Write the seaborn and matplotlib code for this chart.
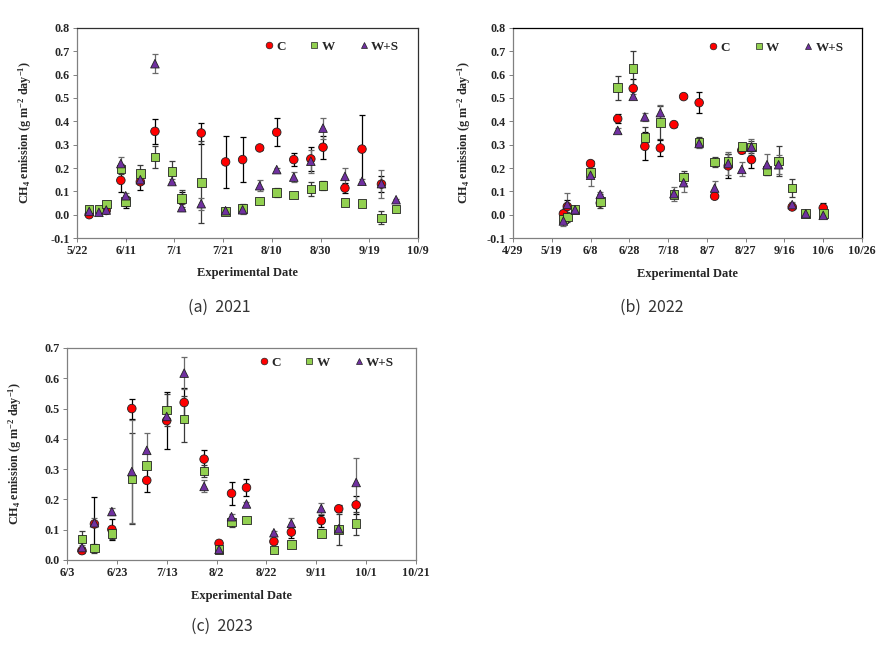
import numpy as np
import pandas as pd
import matplotlib
matplotlib.use("Agg")
import matplotlib.pyplot as plt
from matplotlib.lines import Line2D
import seaborn as sns

# ---------------- data ----------------
treatments = ["C", "W", "W+S"]

# (a) 2021
dates_a = ["2021-05-27", "2021-05-31", "2021-06-03", "2021-06-09", "2021-06-11", "2021-06-17",
           "2021-06-23", "2021-06-30", "2021-07-04", "2021-07-12", "2021-07-22", "2021-07-29",
           "2021-08-05", "2021-08-12", "2021-08-19", "2021-08-26", "2021-08-31", "2021-09-09",
           "2021-09-16", "2021-09-24", "2021-09-30"]
c_a = [0.000, np.nan, 0.018, 0.147, 0.053, 0.141, 0.357, np.nan, 0.061, 0.350, 0.226, 0.236,
       0.286, 0.353, 0.236, 0.239, 0.289, 0.114, 0.281, 0.131, np.nan]
c_a_err = [0.005, np.nan, 0.010, 0.050, 0.025, 0.035, 0.055, np.nan, 0.035, 0.045, 0.113, 0.095,
           0.010, 0.060, 0.027, 0.050, 0.050, 0.020, 0.145, 0.035, np.nan]
w_a = [0.024, 0.024, 0.046, 0.196, 0.057, 0.177, 0.247, 0.184, 0.069, 0.139, 0.014, 0.026,
       0.059, 0.096, 0.084, 0.110, 0.124, 0.053, 0.047, -0.014, 0.024]
w_a_err = [0.005, 0.005, 0.008, 0.020, 0.020, 0.035, 0.047, 0.045, 0.035, 0.175, 0.008, 0.020,
           0.005, 0.020, 0.005, 0.030, 0.020, 0.005, 0.005, 0.028, 0.005]
ws_a = [0.014, 0.010, 0.020, 0.219, 0.081, 0.150, 0.647, 0.142, 0.030, 0.047, 0.017, 0.021,
        0.124, 0.193, 0.161, 0.229, 0.371, 0.164, 0.143, 0.133, 0.064]
ws_a_err = [0.005, 0.005, 0.008, 0.030, 0.010, 0.020, 0.040, 0.010, 0.015, 0.025, 0.010, 0.020,
            0.024, 0.008, 0.020, 0.050, 0.045, 0.035, 0.010, 0.060, 0.005]
xticks_a = ["2021-05-22", "2021-06-11", "2021-07-01", "2021-07-21", "2021-08-10",
            "2021-08-30", "2021-09-19", "2021-10-09"]

# (b) 2022
dates_b = ["2022-05-25", "2022-05-27", "2022-05-31", "2022-06-08", "2022-06-13", "2022-06-22",
           "2022-06-30", "2022-07-06", "2022-07-14", "2022-07-21", "2022-07-26", "2022-08-03",
           "2022-08-11", "2022-08-18", "2022-08-25", "2022-08-30", "2022-09-07", "2022-09-13",
           "2022-09-20", "2022-09-27", "2022-10-06"]
c_b = [0.004, 0.035, np.nan, 0.219, 0.050, 0.411, 0.541, 0.293, 0.286, 0.386, 0.506, 0.480,
       0.079, 0.209, 0.276, 0.236, np.nan, np.nan, 0.033, np.nan, 0.029]
c_b_err = [0.005, 0.030, np.nan, 0.010, 0.010, 0.020, 0.040, 0.060, 0.036, 0.010, 0.008, 0.045,
           0.005, 0.050, 0.010, 0.035, np.nan, np.nan, 0.008, np.nan, 0.020]
w_b = [-0.018, -0.010, 0.021, 0.181, 0.057, 0.544, 0.626, 0.330, 0.394, 0.087, 0.161, 0.311,
       0.226, 0.229, 0.293, 0.290, 0.190, 0.230, 0.114, 0.004, 0.004]
w_b_err = [0.010, 0.020, 0.008, 0.020, 0.030, 0.052, 0.075, 0.046, 0.070, 0.010, 0.025, 0.020,
           0.022, 0.030, 0.010, 0.025, 0.020, 0.065, 0.040, 0.005, 0.005]
ws_b = [-0.027, 0.044, 0.021, 0.169, 0.087, 0.361, 0.507, 0.419, 0.437, 0.090, 0.137, 0.305,
        0.114, 0.219, 0.194, 0.290, 0.214, 0.214, 0.043, 0.004, -0.003]
ws_b_err = [0.020, 0.050, 0.010, 0.045, 0.010, 0.010, 0.010, 0.018, 0.035, 0.030, 0.040, 0.020,
            0.030, 0.050, 0.030, 0.035, 0.045, 0.040, 0.010, 0.005, 0.005]
xticks_b = ["2022-04-29", "2022-05-19", "2022-06-08", "2022-06-28", "2022-07-18", "2022-08-07",
            "2022-08-27", "2022-09-16", "2022-10-06", "2022-10-26"]

# (c) 2023
dates_c = ["2023-06-09", "2023-06-14", "2023-06-21", "2023-06-29", "2023-07-05", "2023-07-13",
           "2023-07-20", "2023-07-28", "2023-08-03", "2023-08-08", "2023-08-14", "2023-08-25",
           "2023-09-01", "2023-09-13", "2023-09-20", "2023-09-27"]
c_c = [0.031, 0.119, 0.101, 0.500, 0.263, 0.460, 0.520, 0.333, 0.055, 0.220, 0.239, 0.061,
       0.092, 0.130, 0.169, 0.182]
c_c_err = [0.008, 0.090, 0.035, 0.033, 0.037, 0.095, 0.048, 0.030, 0.005, 0.037, 0.028, 0.008,
           0.018, 0.020, 0.012, 0.030]
w_c = [0.069, 0.039, 0.088, 0.268, 0.312, 0.496, 0.465, 0.294, 0.035, 0.125, 0.132, 0.033,
       0.052, 0.088, 0.101, 0.121]
w_c_err = [0.026, 0.015, 0.020, 0.150, 0.012, 0.053, 0.075, 0.020, 0.005, 0.015, 0.008, 0.005,
           0.005, 0.008, 0.052, 0.038]
ws_c = [0.041, 0.123, 0.160, 0.292, 0.362, 0.474, 0.617, 0.243, 0.035, 0.143, 0.185, 0.090,
        0.121, 0.170, 0.103, 0.256]
ws_c_err = [0.008, 0.015, 0.012, 0.170, 0.057, 0.010, 0.053, 0.020, 0.005, 0.008, 0.008, 0.005,
            0.018, 0.017, 0.008, 0.082]
xticks_c = ["2023-06-03", "2023-06-23", "2023-07-13", "2023-08-02", "2023-08-22",
            "2023-09-11", "2023-10-01", "2023-10-21"]

captions = ["(a)  2021", "(b)  2022", "(c)  2023"]

# ---------------- style ----------------
sns.set_theme(style="white")
plt.rcParams["font.family"] = ["Liberation Serif", "DejaVu Serif"]
plt.rcParams["mathtext.fontset"] = "custom"
plt.rcParams["mathtext.rm"] = "Liberation Serif:bold"
plt.rcParams["mathtext.it"] = "Liberation Serif:bold"
plt.rcParams["mathtext.bf"] = "Liberation Serif:bold"

palette = {"C": "#FF0000", "W": "#92D050", "W+S": "#7030A0"}
markers = {"C": "o", "W": "s", "W+S": "^"}
ecolors = {"C": "#000000", "W": "#3a3a3a", "W+S": "#6a6a6a"}

fig = plt.figure(figsize=(8.89, 6.45), dpi=100)
W_, H_ = 889, 645


def px_axes(l, t, r, b):
    return fig.add_axes([l / W_, 1 - b / H_, (r - l) / W_, (b - t) / H_])


def draw(ax, dates, series, errs, xticks, ylim, yticks, leg_xy, ylab_x, xlab_y, frame_dark):
    d = pd.to_datetime(dates)
    frames = []
    for t, vals in zip(treatments, series):
        frames.append(pd.DataFrame({"date": d, "value": vals, "treatment": t}))
    long = pd.concat(frames, ignore_index=True).dropna()
    for t, vals, e in zip(treatments, series, errs):
        ax.errorbar(d, vals, yerr=e, fmt="none", ecolor=ecolors[t], elinewidth=0.9,
                    capsize=2.4, capthick=0.9, zorder=2)
    sns.scatterplot(data=long, x="date", y="value", hue="treatment", style="treatment",
                    hue_order=treatments, style_order=treatments,
                    palette=palette, markers=markers, s=38, edgecolor="#222222",
                    linewidth=0.6, legend=False, ax=ax, zorder=3)
    xt = pd.to_datetime(xticks)
    ax.set_xlim(xt[0], xt[-1])
    ax.set_xticks(xt)
    ax.set_xticklabels([f"{x.month}/{x.day}" for x in xt])
    ax.set_ylim(*ylim)
    ax.set_yticks(yticks)
    ax.set_yticklabels([f"{v:.1f}" for v in yticks])
    for lab in ax.get_xticklabels() + ax.get_yticklabels():
        lab.set_fontweight("bold")
        lab.set_fontsize(8.7)
    ax.tick_params(axis="both", direction="out", length=3, width=0.7, color="#808080",
                   pad=2, bottom=True, left=True)
    for side in ["left", "bottom"]:
        ax.spines[side].set_color("#808080")
        ax.spines[side].set_linewidth(0.9)
    for side in ["top", "right"]:
        ax.spines[side].set_color(frame_dark)
        ax.spines[side].set_linewidth(0.9)
    ax.set_xlabel("Experimental Date", fontsize=9, fontweight="bold")
    ax.set_ylabel(r"CH$_4$ emission (g m$^{-2}$ day$^{-1}$)", fontsize=8.7, fontweight="bold")
    ax.xaxis.set_label_coords(0.5, xlab_y)
    ax.yaxis.set_label_coords(ylab_x, 0.5)
    ax.grid(False)
    handles = [Line2D([], [], linestyle="none", marker=markers[t], markerfacecolor=palette[t],
                      markeredgecolor="#222222", markeredgewidth=0.5, markersize=4.8, label=t)
               for t in treatments]
    ax.legend(handles=handles, loc="center", bbox_to_anchor=leg_xy, ncol=3,
              frameon=False, handlelength=0.6, handletextpad=0.25, columnspacing=1.9,
              borderpad=0.0, prop={"family": "Liberation Serif", "weight": "bold", "size": 9.5})


ax_a = px_axes(77, 28, 418, 238)
draw(ax_a, dates_a, [c_a, w_a, ws_a], [c_a_err, w_a_err, ws_a_err], xticks_a,
     (-0.1, 0.8), np.round(np.arange(-0.1, 0.81, 0.1), 1), (0.748, 0.911), -0.125, -0.14, "#303030")

ax_b = px_axes(513, 28, 862, 238)
draw(ax_b, dates_b, [c_b, w_b, ws_b], [c_b_err, w_b_err, ws_b_err], xticks_b,
     (-0.1, 0.8), np.round(np.arange(-0.1, 0.81, 0.1), 1), (0.754, 0.905), -0.115, -0.145, "#000000")

ax_c = px_axes(67, 348, 416, 560)
draw(ax_c, dates_c, [c_c, w_c, ws_c], [c_c_err, w_c_err, ws_c_err], xticks_c,
     (0.0, 0.7), np.round(np.arange(0.0, 0.71, 0.1), 1), (0.745, 0.932), -0.124, -0.142, "#808080")

for (x, y), txt in zip([(219, 307), (652, 307), (222, 626)], captions):
    fig.text(x / W_, 1 - y / H_, txt, ha="center", va="center", fontsize=11.5,
             family=["Noto Sans CJK KR", "DejaVu Sans"], stretch="condensed",
             color="#333333")

fig.savefig("out.png", dpi=100)
